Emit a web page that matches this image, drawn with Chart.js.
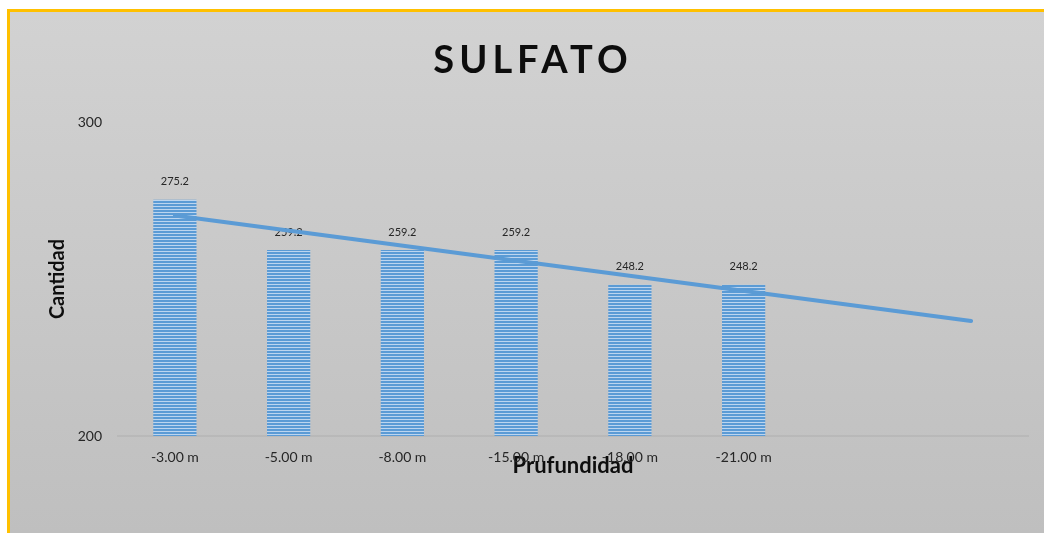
<!DOCTYPE html>
<html>
<head>
<meta charset="utf-8">
<script src="https://cdn.jsdelivr.net/npm/chart.js@4/dist/chart.umd.min.js"></script>
<style>
    html, body { margin: 0; padding: 0; background: #ffffff; }
    #wrap { width: 1044px; height: 533px; }
</style>
</head>
<body>
<div id="wrap"><canvas id="sulfato"></canvas></div>
<script>
// data
const categories = ['-3.00 m', '-5.00 m', '-8.00 m', '-15.00 m', '-18.00 m', '-21.00 m', '', ''];
const sulfato = [275.2, 259.2, 259.2, 259.2, 248.2, 248.2, null, null];
// linear trend line, read at its two ends
const trendValues = [270.2, null, null, null, null, null, null, 236.6];
const yTicks = [200, 300];

const FONT = 'Lato, "Open Sans", sans-serif';

// striped fill for the bars
function stripePattern() {
    let c = document.createElement('canvas');
    c.width = 4;
    c.height = 3;
    let g = c.getContext('2d');
    g.fillStyle = '#bcd5ef';
    g.fillRect(0, 0, 4, 3);
    g.fillStyle = '#5b9bd5';
    g.fillRect(0, 0, 4, 2);
    return g.createPattern(c, 'repeat');
}

// background, frame and title
const frame = {
    id: 'frame',
    beforeDraw(chart) {
        const ctx = chart.ctx;
        ctx.save();
        let grad = ctx.createLinearGradient(0, 12, 0, 533);
        grad.addColorStop(0, '#d2d2d2');
        grad.addColorStop(1, '#bfbfbf');
        ctx.fillStyle = grad;
        ctx.fillRect(9, 12, chart.width - 9, chart.height - 12);
        ctx.fillStyle = '#ffc000';
        ctx.fillRect(7, 9, chart.width - 7, 3);
        ctx.fillRect(7, 9, 3, chart.height - 9);
        ctx.restore();
    },
    afterDraw(chart) {
        const ctx = chart.ctx;
        ctx.save();
        ctx.font = 'bold 38px ' + FONT;
        ctx.letterSpacing = '5px';
        ctx.fillStyle = '#0d0d0d';
        ctx.textAlign = 'center';
        ctx.textBaseline = 'middle';
        ctx.fillText('SULFATO', 533, 61);
        ctx.restore();
    }
};

// value labels above the bars (drawn before the trend line)
const barLabels = {
    id: 'barLabels',
    afterDatasetDraw(chart, args) {
        if (args.index !== 0) return;
        const ctx = chart.ctx;
        ctx.save();
        ctx.font = '11px ' + FONT;
        ctx.fillStyle = '#262626';
        ctx.textAlign = 'center';
        ctx.textBaseline = 'middle';
        args.meta.data.forEach((bar, i) => {
            if (sulfato[i] == null) return;
            ctx.fillText(sulfato[i].toFixed(1), bar.x, bar.y - 18);
        });
        ctx.restore();
    }
};

new Chart(document.getElementById('sulfato'), {
    type: 'bar',
    data: {
        labels: categories,
        datasets: [{
            label: 'Sulfato',
            data: sulfato,
            backgroundColor: stripePattern(),
            barPercentage: 0.76,
            categoryPercentage: 0.5,
            order: 2
        }, {
            type: 'line',
            label: 'Tendencia',
            data: trendValues,
            spanGaps: true,
            borderColor: '#5b9bd5',
            borderWidth: 4,
            borderCapStyle: 'round',
            pointRadius: 0,
            fill: false,
            order: 1
        }]
    },
    options: {
        responsive: true,
        maintainAspectRatio: false,
        animation: false,
        layout: {
            padding: { left: 0, top: 122, right: 16, bottom: 0 }
        },
        plugins: {
            legend: { display: false },
            tooltip: { enabled: false }
        },
        scales: {
            x: {
                grid: { display: false, drawTicks: false },
                border: { display: true, color: 'rgba(0,0,0,0.05)', width: 2 },
                ticks: {
                    font: { family: FONT, size: 14 },
                    color: '#262626',
                    padding: 13,
                    maxRotation: 0,
                    autoSkip: false
                },
                title: {
                    display: true,
                    text: 'Prufundidad',
                    font: { family: FONT, size: 22, weight: 'bold' },
                    color: '#0d0d0d',
                    padding: { top: 0, bottom: 54 }
                },
                afterFit(scale) {
                    scale.height = 97;
                }
            },
            y: {
                min: 200,
                max: 300,
                grid: { display: false, drawTicks: false },
                border: { display: false },
                afterBuildTicks(scale) {
                    scale.ticks = yTicks.map(v => ({ value: v }));
                },
                ticks: {
                    font: { family: FONT, size: 14 },
                    color: '#262626',
                    padding: 16
                },
                title: {
                    display: true,
                    text: 'Cantidad',
                    font: { family: FONT, size: 20, weight: 'bold' },
                    color: '#0d0d0d',
                    padding: { top: 46, bottom: 0 }
                },
                afterFit(scale) {
                    scale.width = 118;
                }
            }
        }
    },
    plugins: [frame, barLabels]
});
</script>
</body>
</html>
